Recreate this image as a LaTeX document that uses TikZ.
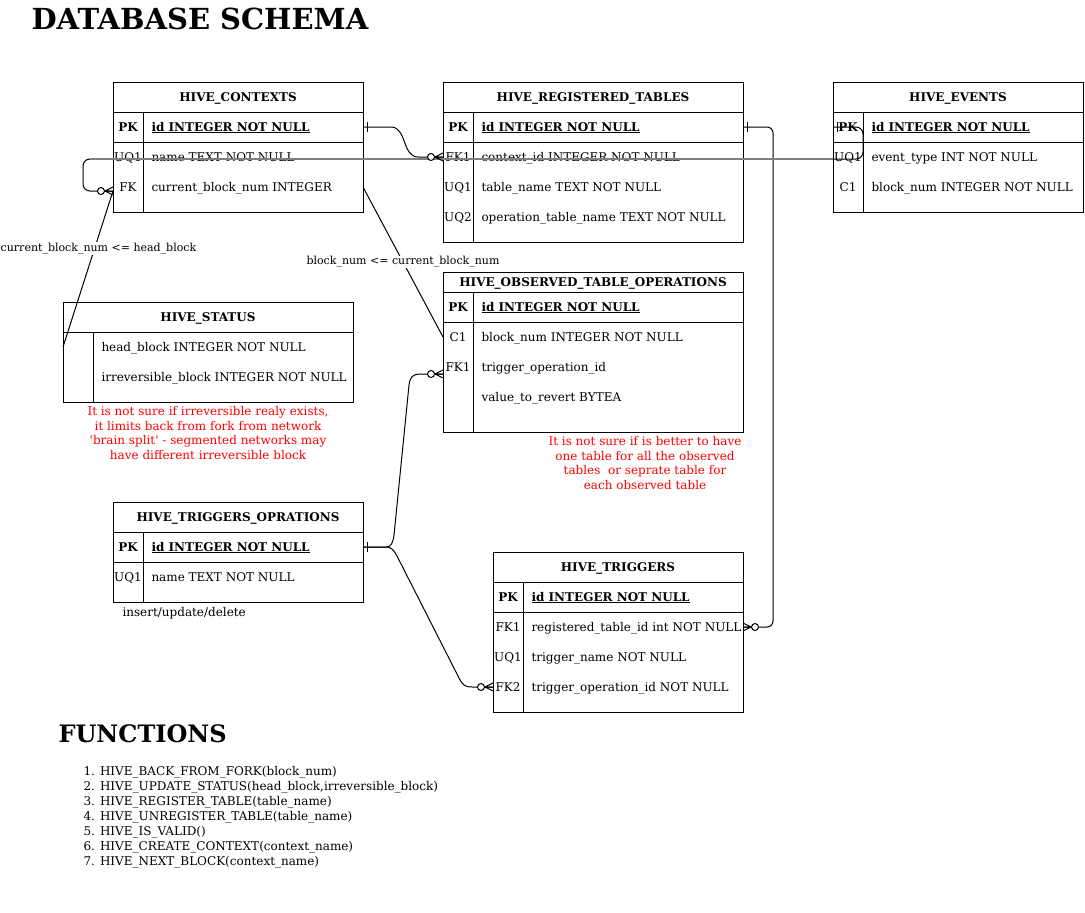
\documentclass[tikz,border=0pt]{standalone}
\usepackage{fontspec}
\setmainfont{DejaVu Serif}
\begin{document}
\begin{tikzpicture}[x=1pt, y=-1pt, line width=1pt,
  txt/.style={font=\fontsize{12}{14.5}\selectfont, inner sep=0},
  hdr/.style={txt, anchor=base, font=\fontsize{12}{14.5}\selectfont\bfseries},
  rowbox/.style={minimum height=30pt, inner sep=0, outer sep=0},
  keytxt/.style={txt, anchor=base},
  keypk/.style={keytxt, font=\fontsize{12}{14.5}\selectfont\bfseries},
  fld/.style={txt, anchor=base west},
  pkfld/.style={fld, font=\fontsize{12}{14.5}\selectfont\bfseries},
  edgelbl/.style={fill=white, inner sep=1pt, font=\fontsize{11}{13}\selectfont},
  note/.style={text=red, align=center, inner sep=0, font=\fontsize{12}{14.7}\selectfont}]
\useasboundingbox (0,0) rectangle (1085,913);

\node[anchor=base west, inner sep=0, font=\fontsize{29}{35}\selectfont\bfseries] (title) at (31,29) {DATABASE SCHEMA};

% HIVE_CONTEXTS
\draw (113,82) rectangle (363,212) (113,112) -- (363,112) (113,142) -- (363,142) (143,112) -- (143,212);
\node[hdr] (ctx) at (238,101) {HIVE\_CONTEXTS};
\node[rowbox, minimum width=250pt] (ctx-id) at (238,127) {};
\node[keypk] (ctx-id-k) at (128,131) {PK};
\node[pkfld] (ctx-id-f) at (151,131) {\underline{id INTEGER NOT NULL}};
\foreach \n/\k/\f [count=\i] in {name/UQ1/name TEXT NOT NULL, cur/FK/current\_block\_num INTEGER} {
  \node[rowbox, minimum width=250pt] (ctx-\n) at (238,127+30*\i) {};
  \node[keytxt] (ctx-\n-k) at (128,131+30*\i) {\k};
  \node[fld] (ctx-\n-f) at (151,131+30*\i) {\f};
}

% HIVE_REGISTERED_TABLES
\draw (443,82) rectangle (743,242) (443,112) -- (743,112) (443,142) -- (743,142) (473,112) -- (473,242);
\node[hdr] (rt) at (593,101) {HIVE\_REGISTERED\_TABLES};
\node[rowbox, minimum width=300pt] (rt-id) at (593,127) {};
\node[keypk] (rt-id-k) at (458,131) {PK};
\node[pkfld] (rt-id-f) at (481,131) {\underline{id INTEGER NOT NULL}};
\foreach \n/\k/\f [count=\i] in {ctx/FK1/context\_id INTEGER NOT NULL, name/UQ1/table\_name TEXT NOT NULL, op/UQ2/operation\_table\_name TEXT NOT NULL} {
  \node[rowbox, minimum width=300pt] (rt-\n) at (593,127+30*\i) {};
  \node[keytxt] (rt-\n-k) at (458,131+30*\i) {\k};
  \node[fld] (rt-\n-f) at (481,131+30*\i) {\f};
}

% HIVE_EVENTS
\draw (833,82) rectangle (1083,212) (833,112) -- (1083,112) (833,142) -- (1083,142) (863,112) -- (863,212);
\node[hdr] (ev) at (958,101) {HIVE\_EVENTS};
\node[rowbox, minimum width=250pt] (ev-id) at (958,127) {};
\node[keypk] (ev-id-k) at (848,131) {PK};
\node[pkfld] (ev-id-f) at (871,131) {\underline{id INTEGER NOT NULL}};
\foreach \n/\k/\f [count=\i] in {type/UQ1/event\_type INT NOT NULL, blk/C1/block\_num INTEGER NOT NULL} {
  \node[rowbox, minimum width=250pt] (ev-\n) at (958,127+30*\i) {};
  \node[keytxt] (ev-\n-k) at (848,131+30*\i) {\k};
  \node[fld] (ev-\n-f) at (871,131+30*\i) {\f};
}

% HIVE_STATUS
\draw (63,302) rectangle (353,402) (63,332) -- (353,332) (93,332) -- (93,402);
\node[hdr] (st) at (208,321) {HIVE\_STATUS};
\foreach \n/\k/\f [count=\i] in {head//head\_block INTEGER NOT NULL, irr//irreversible\_block INTEGER NOT NULL} {
  \node[rowbox, minimum width=290pt] (st-\n) at (208,317+30*\i) {};
  \node[keytxt] (st-\n-k) at (78,321+30*\i) {\k};
  \node[fld] (st-\n-f) at (101,321+30*\i) {\f};
}
\node[note] (st-note) at (208,433) {It is not sure if irreversible realy exists,\\it limits back from fork from network\\\textquotesingle brain split\textquotesingle\ - segmented networks may\\have different irreversible block};

% HIVE_OBSERVED_TABLE_OPERATIONS
\draw (443,272) rectangle (743,432) (443,292) -- (743,292) (443,322) -- (743,322) (473,292) -- (473,432);
\node[hdr] (obs) at (593,286) {HIVE\_OBSERVED\_TABLE\_OPERATIONS};
\node[rowbox, minimum width=300pt] (obs-id) at (593,307) {};
\node[keypk] (obs-id-k) at (458,311) {PK};
\node[pkfld] (obs-id-f) at (481,311) {\underline{id INTEGER NOT NULL}};
\foreach \n/\k/\f [count=\i] in {blk/C1/block\_num INTEGER NOT NULL, trg/FK1/trigger\_operation\_id, val//value\_to\_revert BYTEA} {
  \node[rowbox, minimum width=300pt] (obs-\n) at (593,307+30*\i) {};
  \node[keytxt] (obs-\n-k) at (458,311+30*\i) {\k};
  \node[fld] (obs-\n-f) at (481,311+30*\i) {\f};
}
\node[note] (obs-note) at (645,463) {It is not sure if is better to have\\one table for all the observed\\tables\ \ or seprate table for\\each observed table};

% HIVE_TRIGGERS_OPRATIONS
\draw (113,502) rectangle (363,602) (113,532) -- (363,532) (113,562) -- (363,562) (143,532) -- (143,602);
\node[hdr] (top) at (238,521) {HIVE\_TRIGGERS\_OPRATIONS};
\node[rowbox, minimum width=250pt] (top-id) at (238,547) {};
\node[keypk] (top-id-k) at (128,551) {PK};
\node[pkfld] (top-id-f) at (151,551) {\underline{id INTEGER NOT NULL}};
\node[rowbox, minimum width=250pt] (top-name) at (238,577) {};
\node[keytxt] (top-name-k) at (128,581) {UQ1};
\node[fld] (top-name-f) at (151,581) {name TEXT NOT NULL};
\node[fld] (top-note) at (122,616) {insert/update/delete};

% HIVE_TRIGGERS
\draw (493,552) rectangle (743,712) (493,582) -- (743,582) (493,612) -- (743,612) (523,582) -- (523,712);
\node[hdr] (trg) at (618,571) {HIVE\_TRIGGERS};
\node[rowbox, minimum width=250pt] (trg-id) at (618,597) {};
\node[keypk] (trg-id-k) at (508,601) {PK};
\node[pkfld] (trg-id-f) at (531,601) {\underline{id INTEGER NOT NULL}};
\foreach \n/\k/\f [count=\i] in {rt/FK1/registered\_table\_id int NOT NULL, name/UQ1/trigger\_name NOT NULL, op/FK2/trigger\_operation\_id NOT NULL} {
  \node[rowbox, minimum width=250pt] (trg-\n) at (618,597+30*\i) {};
  \node[keytxt] (trg-\n-k) at (508,601+30*\i) {\k};
  \node[fld] (trg-\n-f) at (531,601+30*\i) {\f};
}

% relations
\coordinate (ctx-fk) at ([yshift=-4pt]ctx-cur.west);
\coordinate (obs-fk) at ([yshift=-7pt]obs-trg.west);
\draw (ctx-id.east) -- ++(28,0) to[out=0,in=180] ([xshift=-25pt]rt-ctx.west) -- (rt-ctx.west);
\draw[rounded corners=6pt] (rt-id.east) -| ([xshift=30pt]trg-rt.east) -- (trg-rt.east);
\draw (top-id.east) -- (386,547) .. controls (391,547) and (393,543) .. (394,535) -- (409,385) .. controls (410,377) and (413,374) .. (420,374) -- (obs-fk);
\draw (top-id.east) -- (386,547) .. controls (391,547) and (394,550) .. (397,556) -- (459,678) .. controls (463,686) and (466,687) .. (472,687) -- (trg-op.west);
\draw[rounded corners=7pt] (ev-id.west) -- (863,127) -- (863,159) -- (83,159) -- (83,191) -- (ctx-fk);
\draw[black!50, line width=2.5pt] (90,159) -- (833,159);
\draw (st-head.west) -- node[edgelbl, pos=0.63, xshift=4pt] (lbl-head) {current\_block\_num <= head\_block} (ctx-fk);
\draw (ctx-cur.east) -- node[edgelbl] (lbl-blk) {block\_num <= current\_block\_num} (obs-blk.west);

\foreach \p/\d in {ctx-id.east/1, rt-id.east/1, top-id.east/1, ev-id.west/1}
  \draw ([xshift=\d*4pt, yshift=5pt]\p) -- ([xshift=\d*4pt, yshift=-5pt]\p);
\foreach \p/\d in {rt-ctx.west/-1, obs-fk/-1, trg-op.west/-1, trg-rt.east/1, ctx-fk/-1} {
  \draw ([yshift=4pt]\p) -- ([xshift=\d*8pt]\p) -- ([yshift=-4pt]\p) (\p) -- ([xshift=\d*8pt]\p);
  \draw[fill=white] ([xshift=\d*12pt]\p) circle (3.5pt);
}

\node[anchor=base west, inner sep=0, font=\fontsize{24}{29}\selectfont\bfseries] (fn) at (58,742) {FUNCTIONS};
\foreach \f [count=\i] in {HIVE\_BACK\_FROM\_FORK(block\_num), {HIVE\_UPDATE\_STATUS(head\_block,irreversible\_block)}, HIVE\_REGISTER\_TABLE(table\_name), HIVE\_UNREGISTER\_TABLE(table\_name), HIVE\_IS\_VALID(), HIVE\_CREATE\_CONTEXT(context\_name), HIVE\_NEXT\_BLOCK(context\_name)}
  \node[fld] (fn-\i) at (83,775+15*\i-15) {\i. \f};
\end{tikzpicture}
\end{document}
